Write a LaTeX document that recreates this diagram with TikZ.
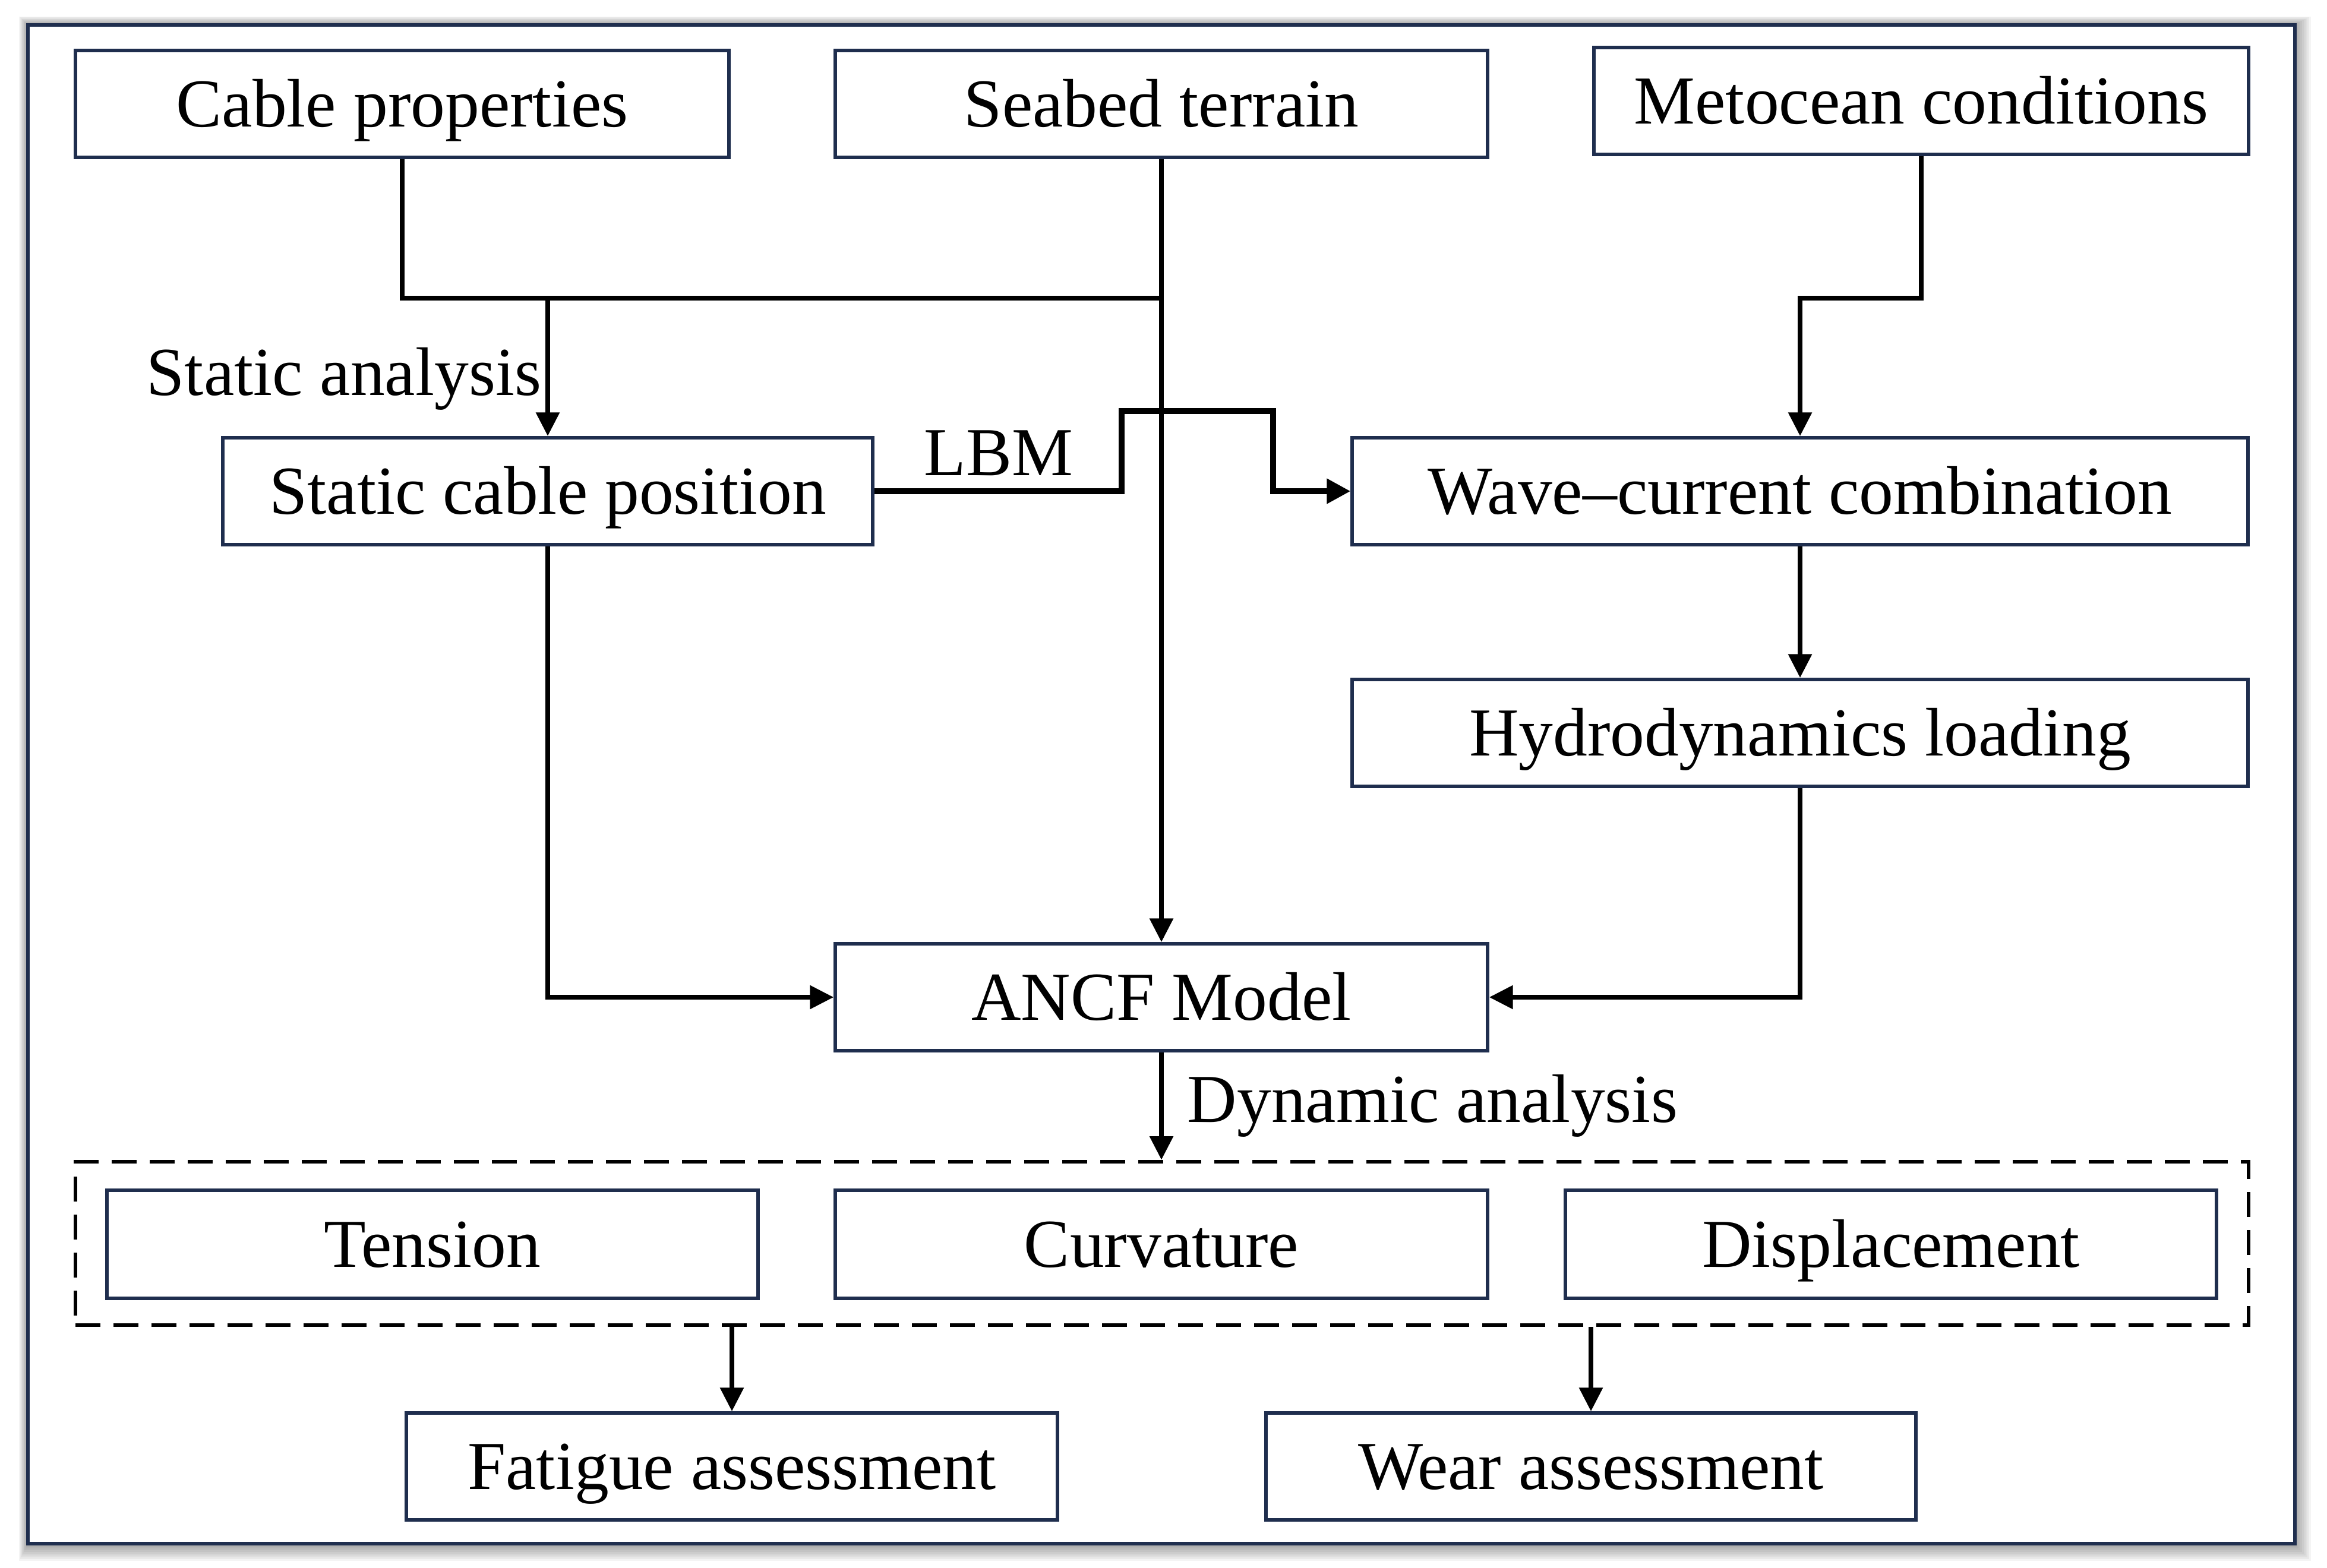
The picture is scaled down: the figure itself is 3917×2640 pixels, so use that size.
\documentclass[tikz,border=0pt]{standalone}
\usepackage{fontspec}
\setmainfont{Liberation Serif}
\usetikzlibrary{arrows.meta}
\definecolor{navy}{HTML}{1F2E4E}
\begin{document}
\begin{tikzpicture}[x=0.25pt,y=-0.25pt,
  box/.style={draw=navy, line width=1.3pt, fill=white, minimum height=45pt, inner sep=0pt,
    text height=19.1pt, text depth=0pt, font=\fontsize{28.9}{34}\selectfont},
  lbl/.style={inner sep=0pt, text height=19.1pt, text depth=0pt, font=\fontsize{28.9}{34}\selectfont},
  conn/.style={line width=2.2pt, line join=miter},
  arr/.style={conn, -{Triangle[length=10pt,width=9.5pt]}},
  lbm/.style={line width=2.5pt, line join=miter, -{Triangle[length=10pt,width=10pt]}}
]
\useasboundingbox (0,0) rectangle (3917,2640);
% shadow and frame
\foreach \d in {0,3,...,27}
  \fill[black,opacity=0.045] (32+\d*0.5,28+\d*0.5) rectangle (3890-\d,2628-\d);
\draw[navy, line width=1.4pt, fill=white] (47,42) rectangle (3863,2599);

% nodes
\node[box, minimum width=275pt] (cable) at (677,175) {Cable properties};
\node[box, minimum width=274.5pt] (seabed) at (1955,175) {Seabed terrain};
\node[box, minimum width=275.5pt] (meto) at (3234,170) {Metocean conditions};
\node[box, minimum width=273.5pt] (static) at (922,827) {Static cable position};
\node[box, minimum width=377pt] (wave) at (3030,827) {Wave--current combination};
\node[box, minimum width=377pt] (hydro) at (3030,1234) {Hydrodynamics loading};
\node[box, minimum width=274.5pt] (ancf) at (1955,1679) {ANCF Model};
\node[draw=black, line width=1.5pt, dash pattern=on 10.5pt off 5.5pt, minimum width=914.5pt,
  minimum height=68.75pt, inner sep=0pt] (dash) at (1956,2093.5) {};
\node[box, minimum width=274pt, minimum height=45.5pt] (tension) at (728,2095) {Tension};
\node[box, minimum width=274.5pt, minimum height=45.5pt] (curv) at (1955,2095) {Curvature};
\node[box, minimum width=274pt, minimum height=45.5pt] (disp) at (3183,2095) {Displacement};
\node[box, minimum width=274pt] (fat) at (1232,2469) {Fatigue assessment};
\node[box, minimum width=273.5pt] (wear) at (2678,2469) {Wear assessment};

% labels
\node[lbl, anchor=east] (lstat) at (912,627) {Static analysis};
\node[lbl] (llbm) at (1681,762) {LBM};
\node[lbl, anchor=west] (ldyn) at (1998,1851) {Dynamic analysis};

% helper coordinates
\coordinate (j) at (0,502);
\coordinate (l1) at (1888,692);
\coordinate (l2) at (2143,692);

% LBM connector (drawn below the seabed line)
\draw[lbm] (static.east) -| (l1) -- (l2) |- (wave.west);

% connectors
\draw[conn] (cable.south) |- (seabed.south |- j);
\draw[arr] (static.north |- j) -- (static.north);
\draw[arr] (seabed.south) -- (ancf.north);
\draw[arr] (meto.south) -- (meto.south |- j) -| (wave.north);
\draw[arr] (wave.south) -- (hydro.north);
\draw[arr] (hydro.south) |- (ancf.east);
\draw[arr] (static.south) |- (ancf.west);
\draw[arr] (ancf.south) -- (ancf.south |- dash.north);
\draw[arr] (fat.north |- dash.south) -- (fat.north);
\draw[arr] (wear.north |- dash.south) -- (wear.north);
\end{tikzpicture}
\end{document}
